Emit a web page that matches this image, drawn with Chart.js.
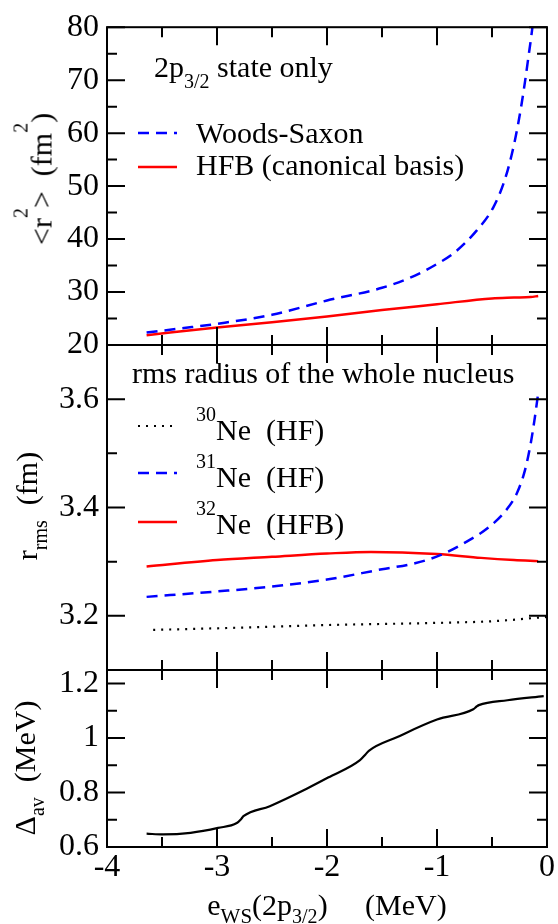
<!DOCTYPE html>
<html lang="en">
<head>
<meta charset="UTF-8">
<title>2p3/2 radius, rms radius and pairing gap vs e_WS</title>
<script src="https://cdn.jsdelivr.net/npm/chart.js"></script>
<style>
  html, body { margin: 0; padding: 0; background: #fff; }
  #fig { position: relative; width: 558px; height: 924px; overflow: hidden;
         font-family: "Liberation Serif", "Times New Roman", serif; color: #000; }
  #fig canvas { position: absolute; left: 0; top: 0; }
  .lbl { position: absolute; font-size: 30px; line-height: 30px; white-space: pre; }
  .ytitle { position: absolute; font-size: 30px; line-height: 30px; white-space: pre;
            transform: translate(-50%, -50%) rotate(-90deg); }
  .sub, .sup { position: relative; font-size: 20px; }
</style>
</head>
<body>
<div id="fig">
  <canvas id="topChart" width="558" height="924"></canvas>
  <canvas id="midChart" width="558" height="924"></canvas>
  <canvas id="botChart" width="558" height="924"></canvas>

  <!-- top panel texts -->
  <div class="lbl" style="left:154px; top:52px">2p<span class="sub" style="top:11px">3/2</span> state only</div>
  <div class="lbl" style="left:196px; top:118px">Woods-Saxon</div>
  <div class="lbl" style="left:196px; top:150px">HFB (canonical basis)</div>
  <div class="ytitle" style="left:43px; top:179px">&lt;r<span class="sup" style="top:-24px">2</span>&gt;  (fm<span class="sup" style="top:-24px">2</span>)</div>

  <!-- middle panel texts -->
  <div class="lbl" style="left:132px; top:358px">rms radius of the whole nucleus</div>
  <div class="lbl" style="left:196px; top:415px"><span class="sup" style="top:-19px">30</span>Ne  (HF)</div>
  <div class="lbl" style="left:196px; top:462px"><span class="sup" style="top:-19px">31</span>Ne  (HF)</div>
  <div class="lbl" style="left:196px; top:509px"><span class="sup" style="top:-19px">32</span>Ne  (HFB)</div>
  <div class="ytitle" style="left:28px; top:506px">r<span class="sub" style="top:10px">rms</span>  (fm)</div>

  <!-- bottom panel texts -->
  <div class="ytitle" style="left:26px; top:768px">Δ<span class="sub" style="top:9px">av</span>  (MeV)</div>
  <div class="lbl" style="left:327px; top:890px; transform:translateX(-50%)">e<span class="sub" style="top:8px; font-size:21px">WS</span>(2p<span class="sub" style="top:8px">3/2</span>)     (MeV)</div>
</div>

<script>
  // x axis: e_WS(2p3/2) in MeV
  const xTicks = [-4, -3.5, -3, -2.5, -2, -1.5, -1, -0.5, 0];
  const xTickLabels = ['-4', '', '-3', '', '-2', '', '-1', '', '0'];

  // top panel: <r^2> of the 2p3/2 state (fm^2)
  const eWoodsSaxon = [-3.64, -3.3, -3.0, -2.5, -2.0, -1.5, -1.2, -1.0, -0.85, -0.64, -0.49, -0.39, -0.32, -0.26, -0.21, -0.17, -0.13, -0.11];
  const r2WoodsSaxon = [22.35, 23.2, 24.0, 25.7, 28.4, 30.8, 33.1, 35.3, 37.3, 41.6, 45.9, 50.8, 56.0, 62.0, 68.3, 74.2, 80.5, 85.0];
  const eHfbCanon = [-3.64, -3.0, -2.5, -2.0, -1.5, -1.0, -0.5, -0.3, -0.15, -0.08];
  const r2HfbCanon = [21.85, 23.3, 24.3, 25.4, 26.6, 27.7, 28.8, 28.95, 29.05, 29.25];
  const r2Ticks = [20, 25, 30, 35, 40, 45, 50, 55, 60, 65, 70, 75, 80];
  const r2TickLabels = ['20', '', '30', '', '40', '', '50', '', '60', '', '70', '', '80'];

  // middle panel: rms radius of the nucleus (fm)
  const eNe30 = [-3.58, -3.0, -2.0, -1.0, -0.5, 0.0];
  const rmsNe30 = [3.174, 3.177, 3.183, 3.187, 3.190, 3.198];
  const eNe31 = [-3.64, -3.0, -2.5, -2.0, -1.5, -1.2, -0.97, -0.73, -0.52, -0.36, -0.27, -0.2, -0.15, -0.115, -0.076];
  const rmsNe31 = [3.235, 3.245, 3.254, 3.267, 3.286, 3.297, 3.312, 3.337, 3.365, 3.398, 3.428, 3.469, 3.516, 3.560, 3.617];
  const eNe32 = [-3.64, -3.0, -2.5, -2.0, -1.6, -1.0, -0.6, -0.3, -0.08];
  const rmsNe32 = [3.291, 3.303, 3.309, 3.315, 3.318, 3.314, 3.307, 3.303, 3.301];
  const rmsTicks = [3.1, 3.2, 3.3, 3.4, 3.5, 3.6, 3.7];
  const rmsTickLabels = ['', '3.2', '', '3.4', '', '3.6', ''];

  // bottom panel: average pairing gap (MeV)
  const eGap = [-3.64, -3.49, -3.24, -2.99, -2.82, -2.78, -2.76, -2.52, -2.18, -1.99, -1.70, -1.65, -1.62, -1.36, -1.0, -0.67, -0.64, -0.62, -0.36, -0.03];
  const gapAv = [0.649, 0.646, 0.652, 0.670, 0.688, 0.703, 0.713, 0.750, 0.815, 0.855, 0.919, 0.940, 0.953, 1.004, 1.068, 1.106, 1.116, 1.121, 1.139, 1.154];
  const gapTicks = [0.6, 0.7, 0.8, 0.9, 1.0, 1.1, 1.2];
  const gapTickLabels = ['0.6', '', '0.8', '', '1', '', '1.2'];

  const serif = '"Liberation Serif", "Times New Roman", serif';
  Chart.defaults.color = '#000';
  Chart.defaults.font.family = serif;

  function toPoints(xs, ys) {
    return xs.map((x, i) => ({ x: x, y: ys[i] }));
  }

  // frame + inward ticks on all four sides, plus legend line samples
  const framePlugin = {
    id: 'frame',
    afterDatasetsDraw(chart, args, opts) {
      const { ctx, chartArea: a, scales } = chart;
      ctx.save();
      ctx.strokeStyle = '#000';
      ctx.lineWidth = 2;
      ctx.beginPath();
      opts.xTicks.forEach((v, i) => {
        const px = scales.x.getPixelForValue(v);
        const len = opts.xLabels[i] ? 18 : 10;
        ctx.moveTo(px, a.bottom); ctx.lineTo(px, a.bottom - len);
        ctx.moveTo(px, a.top); ctx.lineTo(px, a.top + len);
      });
      opts.yTicks.forEach((v, i) => {
        const py = scales.y.getPixelForValue(v);
        const len = opts.yLabels[i] ? 18 : 10;
        ctx.moveTo(a.left, py); ctx.lineTo(a.left + len, py);
        ctx.moveTo(a.right, py); ctx.lineTo(a.right - len, py);
      });
      ctx.stroke();
      ctx.strokeRect(a.left, a.top, a.right - a.left, a.bottom - a.top);

      (opts.keys || []).forEach(k => {
        const ds = chart.data.datasets[k.dataset];
        ctx.save();
        ctx.strokeStyle = ds.borderColor;
        ctx.lineWidth = ds.borderWidth;
        ctx.setLineDash(ds.borderDash || []);
        ctx.beginPath();
        ctx.moveTo(k.x0, k.y);
        ctx.lineTo(k.x1, k.y);
        ctx.stroke();
        ctx.restore();
      });
      ctx.restore();
    }
  };

  function lineSet(xs, ys, color, width, dash) {
    return {
      data: toPoints(xs, ys),
      borderColor: color,
      borderWidth: width,
      borderDash: dash,
      pointRadius: 0,
      fill: false,
      cubicInterpolationMode: 'monotone',
      clip: 0
    };
  }

  function yScale(min, max, ticks, labels) {
    return {
      type: 'linear',
      min: min,
      max: max,
      grid: { display: false, drawTicks: false },
      border: { display: false },
      afterBuildTicks: s => { s.ticks = ticks.map(v => ({ value: v })); },
      afterFit: s => { s.width = 107; },
      ticks: {
        autoSkip: false,
        padding: 8,
        font: { family: serif, size: 32 },
        callback: (value, index) => labels[index]
      }
    };
  }

  function xScale(show) {
    return {
      type: 'linear',
      min: -4,
      max: 0,
      display: show,
      grid: { display: false, drawTicks: false },
      border: { display: false },
      afterBuildTicks: s => { s.ticks = xTicks.map(v => ({ value: v })); },
      afterFit: s => { if (show) s.height = 40; },
      ticks: {
        autoSkip: false,
        maxRotation: 0,
        padding: 1,
        font: { family: serif, size: 32 },
        callback: (value, index) => xTickLabels[index]
      }
    };
  }

  function makePanel(id, datasets, padding, yMin, yMax, yTicks, yLabels, showX, keys) {
    return new Chart(document.getElementById(id), {
      type: 'line',
      data: { datasets: datasets },
      options: {
        responsive: false,
        animation: false,
        layout: { padding: padding },
        scales: { x: xScale(showX), y: yScale(yMin, yMax, yTicks, yLabels) },
        plugins: {
          legend: { display: false },
          tooltip: { enabled: false },
          frame: {
            xTicks: xTicks, xLabels: xTickLabels,
            yTicks: yTicks, yLabels: yLabels,
            keys: keys
          }
        }
      },
      plugins: [framePlugin]
    });
  }

  makePanel('topChart', [
    lineSet(eWoodsSaxon, r2WoodsSaxon, '#0000ff', 2.5, [11, 7]),
    lineSet(eHfbCanon, r2HfbCanon, '#ff0000', 2.5, [])
  ], { top: 21, bottom: 579, left: 0, right: 11 },
     20, 80, r2Ticks, r2TickLabels, false,
     [{ dataset: 0, x0: 138, x1: 177, y: 133 }, { dataset: 1, x0: 138, x1: 177, y: 167 }]);

  makePanel('midChart', [
    lineSet(eNe30, rmsNe30, '#000000', 2.2, [2, 6]),
    lineSet(eNe31, rmsNe31, '#0000ff', 2.5, [11, 7]),
    lineSet(eNe32, rmsNe32, '#ff0000', 2.5, [])
  ], { top: 345, bottom: 254, left: 0, right: 11 },
     3.1, 3.7, rmsTicks, rmsTickLabels, false,
     [{ dataset: 0, x0: 138, x1: 177, y: 426 }, { dataset: 1, x0: 138, x1: 177, y: 473 },
      { dataset: 2, x0: 138, x1: 177, y: 522 }]);

  makePanel('botChart', [
    lineSet(eGap, gapAv, '#000000', 2.2, [])
  ], { top: 670, bottom: 37, left: 0, right: 11 },
     0.6, 1.25, gapTicks, gapTickLabels, true, []);
</script>
</body>
</html>
